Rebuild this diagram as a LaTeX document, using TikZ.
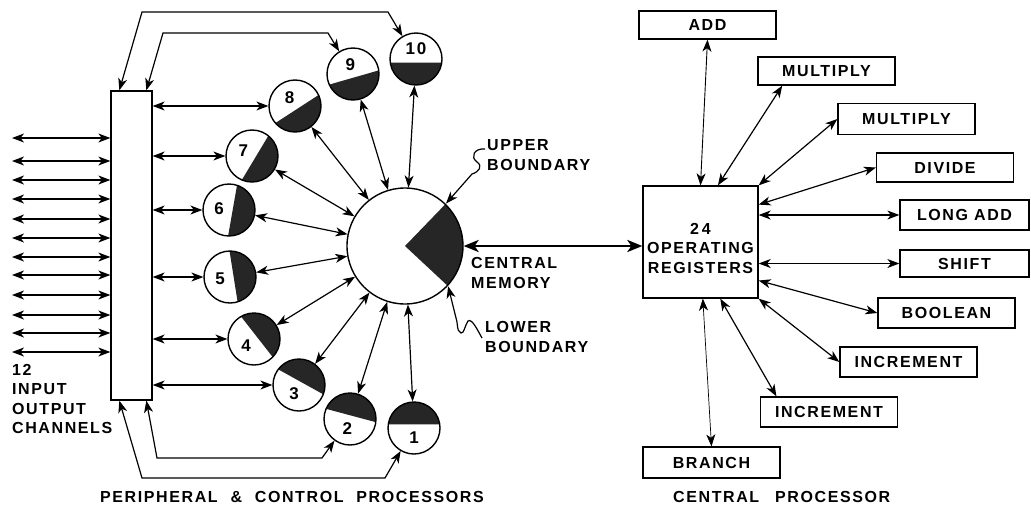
\documentclass[tikz,border=0pt]{standalone}
\usepackage{fontspec}
\setmainfont{Liberation Sans}[LetterSpace=10]
\usetikzlibrary{arrows.meta,calc}
\tikzset{
  lbl/.style={font=\fontsize{16}{19.5}\selectfont\bfseries, inner sep=0pt, align=left},
  box/.style={draw, line width=1.3pt, minimum width=137pt, minimum height=29pt, inner sep=0pt, font=\fontsize{16}{19}\selectfont\bfseries},
  proc/.style={circle, minimum size=52pt, inner sep=0pt, outer sep=0.6pt},
  memnode/.style={circle, minimum size=116pt, inner sep=0pt, outer sep=0.6pt},
  outl/.style={line width=1.4pt},
  shadefill/.style={fill=black!85},
  tip/.tip={Stealth[length=12pt,width=9pt,inset=3.5pt]},
  dbl/.style={line width=1.2pt, tip-tip},
  bigarr/.style={line width=2.8pt, {Stealth[length=15pt,width=12pt,inset=4pt]}-{Stealth[length=15pt,width=12pt,inset=4pt]}},
  sq/.style={line width=1.2pt, -tip},
  numlab/.style={font=\fontsize{17}{17}\selectfont\bfseries, inner sep=0pt},
}
\newcommand{\procnode}[4]{%
  \node[proc] (#1) at (#2) {};
  \fill[shadefill] ($(#1.center)+(#3-82:26pt)$) arc[start angle=#3-82, end angle=#3+82, radius=26pt] -- cycle;
  \draw[outl] (#1.center) circle[radius=26pt];
  \node[numlab] (#1l) at ($(#1.center)+(#3+180:10pt)$) {#4};
}
\begin{document}
\begin{tikzpicture}[x=1pt,y=1pt]
\useasboundingbox (0,0) rectangle (1031,-517);

% bar
\node[draw, line width=1.3pt, minimum width=41pt, minimum height=309pt, inner sep=0pt] (bar) at (131.5,-245.5) {};

% IO channels
\foreach \yy [count=\i] in {138,161,180,199,219,238,257,275,295,315,333,352} {
  \coordinate (io\i) at (12,-\yy);
  \draw[dbl] (io\i -| bar.west) -- (io\i);
}
\node[lbl, anchor=north west] (iolab) at (12,-364) {12\\INPUT\\OUTPUT\\CHANNELS};

% processors
\procnode{c1}{414,-428}{90}{1}
\procnode{c2}{350,-419}{75}{2}
\procnode{c3}{299,-385}{61}{3}
\procnode{c4}{254,-339}{38}{4}
\procnode{c5}{230,-277}{9}{5}
\procnode{c6}{229,-210}{-10}{6}
\procnode{c7}{252,-156}{-31}{7}
\procnode{c8}{295,-106}{-57}{8}
\procnode{c9}{353,-74}{-74}{9}
\procnode{c10}{416,-59}{-90}{10}

% central memory
\node[memnode] (mem) at (405,-246) {};
\fill[shadefill] (mem.center) -- ($(mem.center)+(-43:58pt)$) arc[start angle=-43, end angle=46, radius=58pt] -- cycle;
\draw[outl] (mem.center) circle[radius=58pt];
\coordinate (ub) at ($(mem.center)+(46:59pt)$);
\coordinate (lb) at ($(mem.center)+(-43:59pt)$);

% bar to processors
\foreach \c in {c8,c7,c6,c5,c4,c3} {
  \draw[dbl] (bar.east |- \c) -- (\c);
}
% processors to memory
\foreach \c in {c1,c2,c3,c4,c5,c6,c7,c8,c9,c10} {
  \draw[dbl] (\c) -- (mem);
}

% loops
\coordinate (ta1) at (142,-12);
\coordinate (ta2) at (388,-12);
\coordinate (tb1) at (163,-33);
\coordinate (tb2) at (328,-33);
\coordinate (ba1) at (157,-458);
\coordinate (ba2) at (322,-458);
\coordinate (bb1) at (142,-478);
\coordinate (bb2) at (385,-478);
\draw[dbl] ([xshift=9pt]bar.north west) -- (ta1) -- (ta2) -- (c10);
\draw[dbl] ([xshift=36pt]bar.north west) -- (tb1) -- (tb2) -- (c9);
\draw[dbl] ([xshift=36pt]bar.south west) -- (ba1) -- (ba2) -- (c2);
\draw[dbl] ([xshift=9pt]bar.south west) -- (bb1) -- (bb2) -- (c1);

% boundary labels
\node[lbl, anchor=west] (uplab) at (487,-155) {UPPER\\BOUNDARY};
\node[lbl, anchor=west] (cmlab) at (471,-273) {CENTRAL\\MEMORY};
\node[lbl, anchor=west] (lolab) at (485,-337) {LOWER\\BOUNDARY};
\coordinate (us) at (485,-149);
\coordinate (ls) at (482,-338);
\draw[sq] (us) .. controls (474,-148) and (470,-157) .. (477,-162) .. controls (483,-166) and (479,-172) .. (472,-174) -- (ub);
\draw[sq] (ls) .. controls (478,-331) and (472,-318) .. (468,-321) .. controls (465,-325) and (464,-334) .. (461,-333) .. controls (458,-331) .. (457,-322) -- (lb);

% central processor
\node[draw, line width=1.3pt, minimum width=115pt, minimum height=112pt, inner sep=0pt] (regs) at (700.5,-242) {};
\node[lbl, align=center] (regst) at (700.5,-248) {2\hspace{3pt}4\\OPERATING\\REGISTERS};
\draw[bigarr] (mem.east) -- (regs.west |- mem.east);

\node[box, minimum height=28pt] (add) at (707.5,-25) {ADD};
\node[box, minimum height=28pt] (mul1) at (826.5,-71) {MULTIPLY};
\node[box, minimum height=31pt] (mul2) at (906.5,-119) {MULTIPLY};
\node[box] (div) at (945,-167.5) {DIVIDE};
\node[box, minimum width=129pt, minimum height=30pt] (ladd) at (964.5,-215) {LONG ADD};
\node[box, minimum width=129pt, minimum height=27pt] (shift) at (964.5,-263.5) {SHIFT};
\node[box, minimum height=30pt] (bool) at (946.5,-313) {BOOLEAN};
\node[box, minimum height=30pt] (inc1) at (908.5,-362) {INCREMENT};
\node[box, minimum height=30pt] (inc2) at (829,-412) {INCREMENT};
\node[box, minimum height=31pt] (branch) at (711.5,-462.5) {BRANCH};

\draw[dbl, line width=0.9pt] (add.south) -- (regs.north);
\draw[dbl] ($(mul1.south west)!0.18!(mul1.south east)$) -- ($(regs.north west)!0.65!(regs.north east)$);
\draw[dbl] (mul2.west) -- (regs.north east);
\draw[dbl] (div.west) -- ($(regs.north east)!0.17!(regs.south east)$);
\draw[dbl] (ladd.west -| regs.east) -- (ladd.west);
\draw[dbl] (shift.west -| regs.east) -- (shift.west);
\draw[dbl] ($(regs.north east)!0.84!(regs.south east)$) -- (bool.west);
\draw[dbl] (regs.south east) -- (inc1.west);
\draw[dbl] ($(regs.south west)!0.67!(regs.south east)$) -- ($(inc2.north west)!0.12!(inc2.north east)$);
\draw[dbl, line width=0.7pt] ($(regs.south west)!0.52!(regs.south east)$) -- (branch.north);

% bottom labels
\node[lbl, anchor=west] (pcp) at (100,-497) {PERIPHERAL\hspace{0.8em}\&\hspace{0.8em}CONTROL\hspace{0.8em}PROCESSORS};
\node[lbl, anchor=west] (cp) at (673,-497) {CENTRAL\hspace{1em}PROCESSOR};
\end{tikzpicture}
\end{document}
